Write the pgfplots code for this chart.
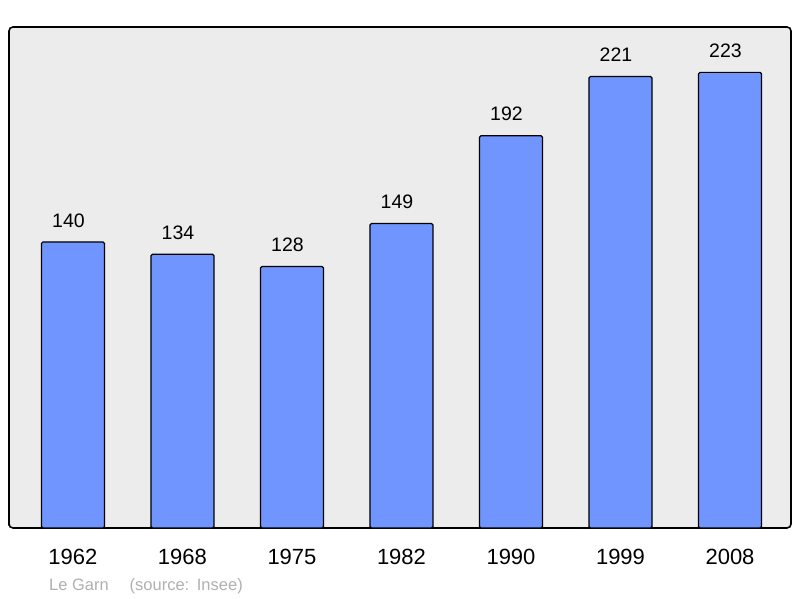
\documentclass[border=0pt]{standalone}
\usepackage{pgfplots}
\pgfplotsset{compat=1.18}
\usepackage{fontspec}
\setmainfont{Liberation Sans}
\definecolor{barblue}{HTML}{7095FF}
\definecolor{bggray}{HTML}{ECECEC}
\definecolor{srcgray}{HTML}{B0B0B0}
\begin{document}
\begin{tikzpicture}[x=1pt,y=1pt]
\path (0,0) rectangle (800,598);
\begin{axis}[
  at={(9pt,70pt)}, anchor=south west,
  scale only axis, width=782pt, height=501pt,
  xmin=-0.584, xmax=6.557, ymin=0, ymax=245.2,
  axis background/.style={fill=bggray},
  axis line style={line width=1.6pt, rounded corners=4pt},
  ytick=\empty,
  xtick={0,1,2,3,4,5,6},
  xticklabels={1962,1968,1975,1982,1990,1999,2008},
  major tick length=0pt,
  xticklabel style={font=\fontsize{22}{26}\selectfont, inner sep=0pt, anchor=north, yshift=-21pt},
  /pgf/number format/assume math mode=true,
  clip=false,
  nodes near coords,
  every node near coord/.append style={font=\fontsize{19.5}{22}\selectfont, anchor=south, inner sep=0pt, yshift=14pt, xshift=-4.5pt, text=black},
]
\addplot[ybar, bar width=63pt, fill=barblue, draw=black, line width=1.2pt, rounded corners=1.5pt]
  coordinates {(0,140) (1,134) (2,128) (3,149) (4,192) (5,221) (6,223)};
\end{axis}
\node[anchor=base west, inner sep=0pt, text=srcgray, font=\fontsize{16.5}{19}\selectfont] at (49,8) {Le Garn};
\node[anchor=base west, inner sep=0pt, text=srcgray, font=\fontsize{16.5}{19}\selectfont] at (129.5,8) {(source:\hspace{1.5pt} Insee)};
\end{tikzpicture}
\end{document}
